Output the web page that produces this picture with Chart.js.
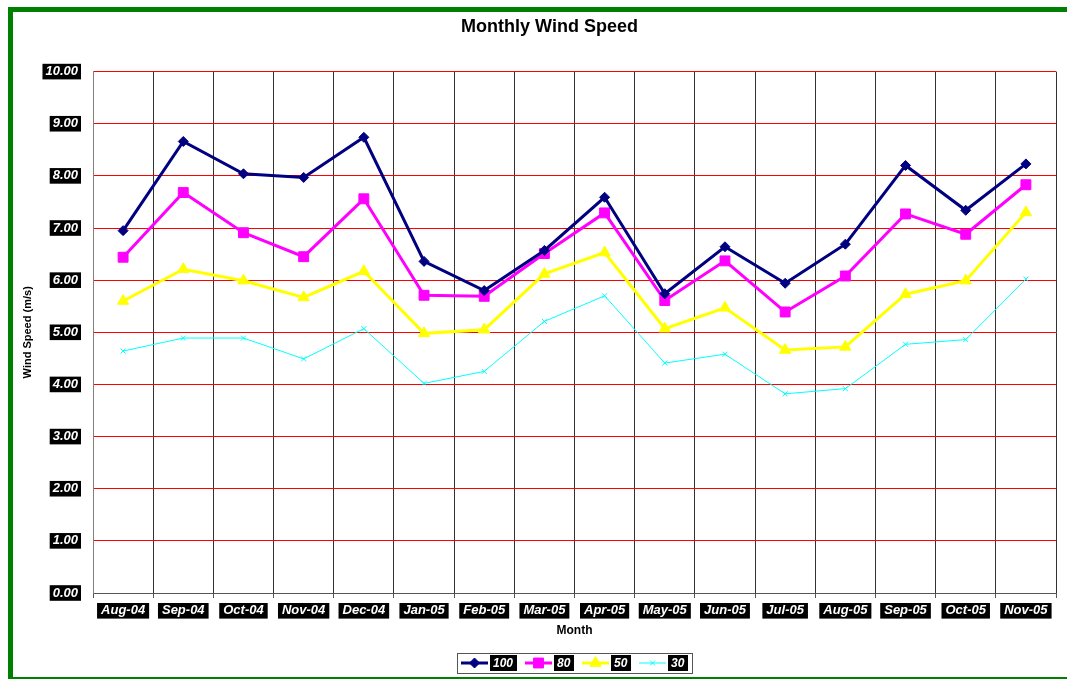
<!DOCTYPE html>
<html>
<head>
<meta charset="utf-8">
<title>Monthly Wind Speed</title>
<script src="https://cdn.jsdelivr.net/npm/chart.js@4.4.1/dist/chart.umd.min.js"></script>
<style>
  html, body { margin: 0; padding: 0; background: #fff; }
  #wrap { position: relative; width: 1067px; height: 680px; overflow: hidden; }
  #frame {
    position: absolute; left: 8px; top: 7px; width: 1080px; height: 672px;
    box-sizing: border-box; pointer-events: none;
    border-top: 5px solid #008000; border-left: 5px solid #008000; border-bottom: 2px solid #008000;
  }
  canvas { position: absolute; left: 0; top: 0; }
</style>
</head>
<body>
<div id="wrap">
  <canvas id="wind-chart" width="1067" height="680"></canvas>
  <div id="frame"></div>
</div>
<script>
"use strict";

const months = ["Aug-04", "Sep-04", "Oct-04", "Nov-04", "Dec-04", "Jan-05", "Feb-05", "Mar-05",
  "Apr-05", "May-05", "Jun-05", "Jul-05", "Aug-05", "Sep-05", "Oct-05", "Nov-05"];

const speed100 = [6.95, 8.66, 8.04, 7.97, 8.74, 6.36, 5.80, 6.57, 7.59, 5.74, 6.64, 5.94, 6.69, 8.20, 7.34, 8.23];
const speed80 = [6.44, 7.68, 6.91, 6.45, 7.56, 5.71, 5.69, 6.51, 7.29, 5.61, 6.37, 5.39, 6.08, 7.27, 6.88, 7.83];
const speed50 = [5.60, 6.21, 5.99, 5.67, 6.17, 4.98, 5.05, 6.12, 6.53, 5.07, 5.47, 4.66, 4.72, 5.73, 5.99, 7.30];
const speed30 = [4.64, 4.89, 4.89, 4.49, 5.07, 4.02, 4.25, 5.21, 5.70, 4.41, 4.58, 3.82, 3.92, 4.77, 4.86, 6.02];

const FONT = "'Liberation Sans', Arial, sans-serif";

// title in the original sits a bit right of the canvas centre
const titleShift = {
  id: "titleShift",
  afterLayout(chart) {
    const t = chart.titleBlock;
    if (t) {
      t.left = 43;
      t.right = 1056;
    }
  }
};

// legend drawn like the spreadsheet one: line + marker, label on a black box
const legendBox = {
  id: "legendBox",
  afterDraw(chart) {
    const ctx = chart.ctx;
    const area = chart.chartArea;
    const lineLen = 27;
    const gap = 2;
    const itemGap = 8;
    const padX = 4;
    ctx.save();
    ctx.font = `italic bold 12px ${FONT}`;
    const items = chart.data.datasets.map((ds) => ({
      ds,
      w: Math.ceil(ctx.measureText(ds.label).width) + 6
    }));
    const total = padX * 2
      + items.reduce((acc, it) => acc + lineLen + gap + it.w, 0)
      + itemGap * (items.length - 1);
    let x = Math.round((area.left + area.right) / 2 - total / 2);
    const top = chart.height - 27;
    const h = 20;
    const cy = top + h / 2;

    ctx.strokeStyle = "#555";
    ctx.lineWidth = 1;
    ctx.strokeRect(x + 0.5, top + 0.5, total, h);

    x += padX;
    items.forEach((it, i) => {
      const ds = it.ds;
      ctx.strokeStyle = ds.borderColor;
      ctx.lineWidth = ds.borderWidth;
      ctx.beginPath();
      ctx.moveTo(x, cy);
      ctx.lineTo(x + lineLen, cy);
      ctx.stroke();
      ctx.fillStyle = ds.pointBackgroundColor;
      ctx.strokeStyle = ds.borderColor;
      ctx.lineWidth = 1;
      Chart.helpers.drawPoint(ctx, {
        pointStyle: ds.pointStyle,
        radius: ds.pointRadius,
        rotation: 0,
        borderWidth: 1
      }, x + lineLen / 2, cy);
      x += lineLen + gap;
      ctx.fillStyle = "#000";
      ctx.fillRect(x, cy - 8, it.w, 16);
      ctx.fillStyle = "#fff";
      ctx.textBaseline = "middle";
      ctx.textAlign = "left";
      ctx.fillText(ds.label, x + 3, cy + 1);
      x += it.w + (i < items.length - 1 ? itemGap : 0);
    });
    ctx.restore();
  }
};

const tickFont = { family: FONT, size: 13, style: "italic", weight: "bold" };

new Chart(document.getElementById("wind-chart"), {
  type: "line",
  data: {
    labels: months,
    datasets: [
      {
        label: "100",
        data: speed100,
        borderColor: "#000080",
        backgroundColor: "#000080",
        pointBackgroundColor: "#000080",
        borderWidth: 3,
        pointStyle: "rectRot",
        pointRadius: 5,
        pointBorderWidth: 1,
        tension: 0
      },
      {
        label: "80",
        data: speed80,
        borderColor: "#ff00ff",
        backgroundColor: "#ff00ff",
        pointBackgroundColor: "#ff00ff",
        borderWidth: 3,
        pointStyle: "rect",
        pointRadius: 7,
        pointBorderWidth: 1,
        tension: 0
      },
      {
        label: "50",
        data: speed50,
        borderColor: "#ffff00",
        backgroundColor: "#ffff00",
        pointBackgroundColor: "#ffff00",
        borderWidth: 3,
        pointStyle: "triangle",
        pointRadius: 6.5,
        pointBorderWidth: 1,
        tension: 0
      },
      {
        label: "30",
        data: speed30,
        borderColor: "#00ffff",
        backgroundColor: "#00ffff",
        pointBackgroundColor: "#00ffff",
        borderWidth: 1,
        pointStyle: "crossRot",
        pointRadius: 3.5,
        pointBorderWidth: 1,
        tension: 0
      }
    ]
  },
  options: {
    responsive: false,
    animation: false,
    layout: { padding: { left: 8, right: 11, top: 12, bottom: 39 } },
    plugins: {
      legend: { display: false },
      tooltip: { enabled: false },
      title: {
        display: true,
        text: "Monthly Wind Speed",
        color: "#000",
        font: { family: FONT, size: 18, weight: "bold" },
        padding: { top: 4, bottom: 34 }
      }
    },
    scales: {
      x: {
        offset: true,
        afterFit: (scale) => { scale.height = 48; },
        grid: {
          offset: true,
          color: "#333",
          lineWidth: 1,
          drawTicks: true,
          tickLength: 5,
          tickColor: "#555"
        },
        border: { color: "#555", width: 1 },
        ticks: {
          color: "#fff",
          font: tickFont,
          padding: 5,
          maxRotation: 0,
          autoSkip: false,
          showLabelBackdrop: true,
          backdropColor: "#000",
          backdropPadding: { x: 4, y: 0 }
        },
        title: {
          display: true,
          text: "Month",
          color: "#000",
          font: { family: FONT, size: 12, weight: "bold" },
          padding: { top: 4, bottom: 3 }
        }
      },
      y: {
        min: 0,
        max: 10,
        afterFit: (scale) => { scale.width = 85; },
        grid: { color: "#ff0000", lineWidth: 1, drawTicks: false },
        border: { color: "#808080", width: 1 },
        ticks: {
          stepSize: 1,
          color: "#fff",
          font: tickFont,
          padding: 15,
          callback: (v) => Number(v).toFixed(2),
          showLabelBackdrop: true,
          backdropColor: "#000",
          backdropPadding: { x: 3, y: 0 }
        },
        title: {
          display: true,
          text: "Wind Speed (m/s)",
          color: "#000",
          font: { family: FONT, size: 11, weight: "bold" },
          padding: { top: 13, bottom: 0 }
        }
      }
    }
  },
  plugins: [titleShift, legendBox]
});
</script>
</body>
</html>
